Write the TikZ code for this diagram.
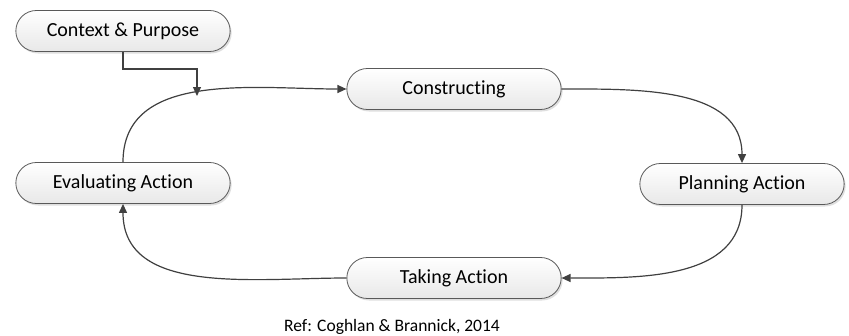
\documentclass[tikz,border=0pt]{standalone}
\usepackage{fontspec}
\setmainfont{Carlito}[Ligatures={NoCommon}]
\usetikzlibrary{positioning, arrows.meta, shapes.misc, shadows}

\tikzset{
  stage/.style={rounded rectangle, draw=gray!70!black, line width=0.8pt,
    top color=white, bottom color=gray!18, minimum width=221pt,
    minimum height=41pt, font=\fontsize{20}{24}\selectfont,
    drop shadow={opacity=0.25, shadow xshift=1.5pt, shadow yshift=-2pt}},
  flow/.style={draw=black!75, line width=1.2pt, ->},
}

\begin{document}
\begin{tikzpicture}[x=1pt, y=-1pt, >={Triangle[length=9pt, width=8pt]}]
    \useasboundingbox (0,0) rectangle (849,335);
    \node[stage] (ctx) at (123,31) {Context \& Purpose};
    \node[stage] (cons) at (454,89) {Constructing};
    \node[stage, minimum width=211pt] (plan) at (742,184) {Planning Action};
    \node[stage] (take) at (454,278) {Taking Action};
    \node[stage] (eval) at (123,183) {Evaluating Action};
    \node (ref) at (392,327) {\fontsize{17.5}{20}\selectfont Ref: Coghlan \& Brannick, 2014};
    \coordinate (join) at (197,96);
    \draw[flow] (eval.north) to[out=90, in=180] (cons.west);
    \draw[flow] (cons.east)  to[out=0, in=90]   (plan.north);
    \draw[flow] (plan.south) to[out=270, in=0]  (take.east);
    \draw[flow] (take.west)  to[out=180, in=270] (eval.south);
    \draw[flow] (ctx.south) -- ++(0,17) -| (join);
\end{tikzpicture}
\end{document}
